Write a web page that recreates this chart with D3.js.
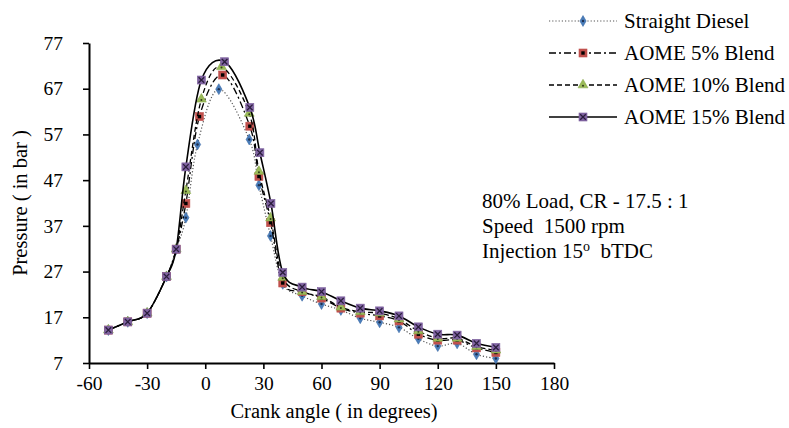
<!DOCTYPE html>
<html>
<head>
<meta charset="utf-8">
<script src="https://cdn.jsdelivr.net/npm/d3@7"></script>
<style>
  body { margin: 0; background: #fff; }
  svg { display: block; font-family: "Liberation Serif", "Times New Roman", serif; }
  text { white-space: pre; }
</style>
</head>
<body>
<svg id="chart" width="789" height="428"></svg>
<script>
// crank angle (deg) and cylinder pressure (bar) for each fuel
const dieselAngle = [-50, -40, -30, -20, -15, -10, -4, 7, 22.7, 27.7, 33.7, 40, 50, 60, 70, 80, 90, 100, 110, 120, 130, 140, 150];
const dieselPress = [14.2, 16.0, 17.9, 25.9, 31.9, 38.8, 54.8, 66.9, 55.9, 45.9, 34.8, 24.3, 21.7, 19.9, 18.6, 16.8, 15.9, 14.8, 12.3, 10.7, 11.3, 8.9, 8.0];

const aome5Angle = [-50, -40, -30, -20, -15, -10, -3, 9, 23, 27.7, 33.7, 40, 50, 60, 70, 80, 90, 100, 110, 120, 130, 140, 150];
const aome5Press = [14.2, 16.0, 17.9, 25.9, 31.9, 41.9, 60.9, 70.0, 58.8, 47.8, 37.7, 24.5, 22.6, 21.2, 19.0, 17.9, 17.3, 16.2, 13.3, 12.0, 12.0, 10.3, 9.3];

const aome10Angle = [-50, -40, -30, -20, -15, -10, -2, 8.4, 22.7, 27.7, 33.7, 40, 50, 60, 70, 80, 90, 100, 110, 120, 130, 140, 150];
const aome10Press = [14.2, 16.0, 17.9, 25.9, 31.9, 44.7, 64.7, 71.8, 61.6, 48.9, 38.7, 25.7, 22.6, 21.5, 19.2, 18.2, 17.9, 16.6, 14.0, 12.4, 12.4, 10.6, 9.8];

const aome15Angle = [-50, -40, -30, -20, -15, -10, -2, 10, 23, 28.2, 33.9, 40, 50, 60, 70, 80, 90, 100, 110, 120, 130, 140, 150];
const aome15Press = [14.2, 16.0, 17.9, 25.9, 31.9, 49.9, 68.9, 72.9, 62.9, 53.0, 41.9, 26.8, 23.6, 22.6, 20.6, 19.0, 18.4, 17.3, 14.9, 13.3, 13.1, 11.3, 10.4];

const seriesNames = ['Straight Diesel', 'AOME 5% Blend', 'AOME 10% Blend', 'AOME 15% Blend'];
const xTicks = [-60, -30, 0, 30, 60, 90, 120, 150, 180];
const yTicks = [7, 17, 27, 37, 47, 57, 67, 77];
const noteLines = ['80% Load, CR - 17.5 : 1', 'Speed  1500 rpm'];

const series = [
  {name: seriesNames[0], x: dieselAngle, y: dieselPress, dash: '1.2,2', stroke: '#555', width: 1.2, marker: 'diamond'},
  {name: seriesNames[1], x: aome5Angle, y: aome5Press, dash: '7,3,2,3', stroke: '#000', width: 1.3, marker: 'square'},
  {name: seriesNames[2], x: aome10Angle, y: aome10Press, dash: '5,3', stroke: '#000', width: 1.3, marker: 'triangle'},
  {name: seriesNames[3], x: aome15Angle, y: aome15Press, dash: null, stroke: '#000', width: 1.6, marker: 'cross'}
];

const svg = d3.select('#chart');
const x = d3.scaleLinear().domain([-60, 180]).range([89, 554]);
const y = d3.scaleLinear().domain([7, 77]).range([363, 43]);

// axes
const xAxis = svg.append('g')
  .attr('transform', `translate(0,${y(7)})`)
  .call(d3.axisBottom(x).tickValues(xTicks).tickFormat(d => String(d))
    .tickSize(6).tickSizeOuter(0).tickPadding(7));
const yAxis = svg.append('g')
  .attr('transform', `translate(${x(-60)},0)`)
  .call(d3.axisLeft(y).tickValues(yTicks).tickFormat(d => String(d))
    .tickSize(6).tickSizeOuter(0).tickPadding(20));

[xAxis, yAxis].forEach(a => {
  a.select('.domain').attr('stroke', '#000').attr('stroke-width', 2);
  a.selectAll('.tick line').attr('stroke', '#000').attr('stroke-width', 1.6);
  a.selectAll('.tick text')
    .attr('fill', '#000')
    .style('font-size', '19.5px')
    .style('font-family', '"Liberation Serif", serif');
});

svg.append('text')
  .attr('x', 334).attr('y', 418)
  .attr('text-anchor', 'middle')
  .style('font-size', '20.5px')
  .text('Crank angle ( in degrees)');

svg.append('text')
  .attr('transform', 'translate(27,203) rotate(-90)')
  .attr('text-anchor', 'middle')
  .style('font-size', '20.5px')
  .text('Pressure ( in bar )');

// markers
function drawMarker(g, type) {
  if (type === 'diamond') {
    g.append('path').attr('d', d3.symbol(d3.symbolDiamond, 34)())
      .attr('fill', '#4a7ebb').attr('stroke', '#3b6aa6').attr('stroke-width', 0.6);
    g.append('circle').attr('r', 1.2).attr('fill', '#1d2f4f');
  } else if (type === 'square') {
    g.append('rect').attr('x', -4).attr('y', -4).attr('width', 8).attr('height', 8)
      .attr('fill', '#c0504d').attr('stroke', '#c0504d').attr('stroke-width', 0.6);
    g.append('rect').attr('x', -1.7).attr('y', -1.7).attr('width', 3.4).attr('height', 3.4).attr('fill', '#000');
  } else if (type === 'triangle') {
    g.append('path').attr('d', d3.symbol(d3.symbolTriangle, 42)())
      .attr('fill', '#9bbb59').attr('stroke', '#86a84a').attr('stroke-width', 0.6);
    g.append('circle').attr('cy', 0.8).attr('r', 1).attr('fill', '#2f3a1a');
  } else {
    g.append('rect').attr('x', -4).attr('y', -4).attr('width', 8).attr('height', 8)
      .attr('fill', '#8064a2').attr('stroke', '#7a5d9c').attr('stroke-width', 0.6);
    g.append('path').attr('d', 'M-2.8,-2.8L2.8,2.8M-2.8,2.8L2.8,-2.8')
      .attr('stroke', '#2a1d3c').attr('stroke-width', 1.3);
  }
}

const line = d3.line()
  .x(d => x(d[0]))
  .y(d => y(d[1]))
  .curve(d3.curveCardinal.tension(0));

series.forEach(s => {
  const pts = s.x.map((v, i) => [v, s.y[i]]);
  const g = svg.append('g').attr('class', 'series');
  g.append('path')
    .datum(pts)
    .attr('d', line)
    .attr('fill', 'none')
    .attr('stroke', s.stroke)
    .attr('stroke-width', s.width)
    .attr('stroke-dasharray', s.dash);
  g.selectAll('.mk')
    .data(pts)
    .enter()
    .append('g')
    .attr('class', 'mk')
    .attr('transform', d => `translate(${x(d[0])},${y(d[1])})`)
    .each(function() { drawMarker(d3.select(this), s.marker); });
});

// legend
const legend = svg.append('g');
series.forEach((s, i) => {
  const ly = 21 + i * 32;
  const row = legend.append('g').attr('transform', `translate(0,${ly})`);
  row.append('line')
    .attr('x1', 549).attr('x2', 617)
    .attr('stroke', s.stroke)
    .attr('stroke-width', s.width)
    .attr('stroke-dasharray', s.dash);
  drawMarker(row.append('g').attr('transform', 'translate(583,0)'), s.marker);
  row.append('text')
    .attr('x', 624).attr('y', 0).attr('dy', '0.35em')
    .style('font-size', '21px')
    .text(s.name);
});

// test conditions note
const note = svg.append('g').style('font-size', '21px');
noteLines.forEach((t, i) => {
  note.append('text').attr('x', 482).attr('y', 208 + i * 25).text(t);
});
const inj = note.append('text').attr('x', 482).attr('y', 258);
inj.append('tspan').text('Injection 15');
inj.append('tspan').attr('y', 251).style('font-size', '14px').text('o');
inj.append('tspan').attr('y', 258).text('  bTDC');
</script>
</body>
</html>
